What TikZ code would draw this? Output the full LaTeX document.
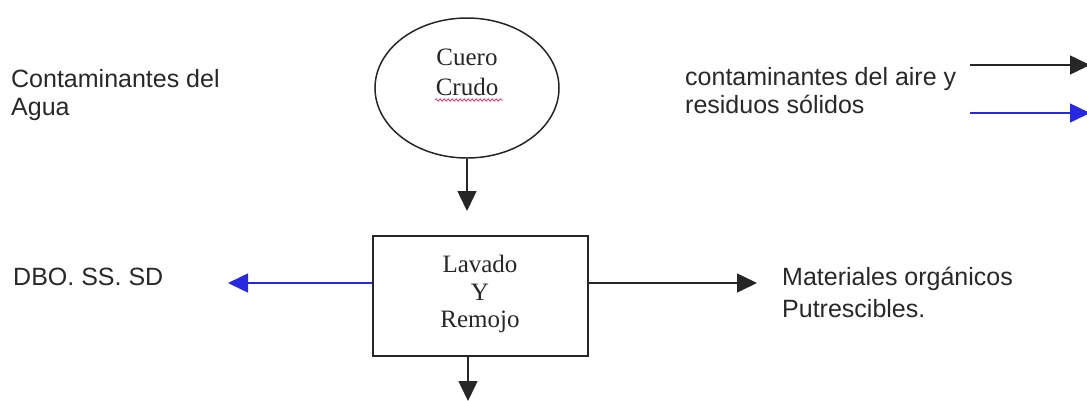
\documentclass[tikz,border=0pt]{standalone}
\usepackage{fontspec}
\setmainfont{Liberation Serif}
\setsansfont{Liberation Sans}
\usetikzlibrary{arrows.meta,shapes.geometric,decorations.pathmorphing}
\definecolor{flowblue}{RGB}{40,40,225}
\definecolor{txtgray}{RGB}{40,40,40}
\tikzset{
  lbl/.style={anchor=base west, inner sep=0pt, font=\sffamily\fontsize{25}{29}\selectfont, text=txtgray},
  inlbl/.style={anchor=base, inner sep=0pt, font=\rmfamily\fontsize{25}{28}\selectfont, text=black!85},
  flow/.style={line width=1.5pt, draw=black!85, -{Triangle[length=20pt,width=19pt]}},
  blueflow/.style={flow, draw=flowblue, fill=flowblue, -{Triangle[length=20pt,width=19pt,fill=flowblue]}},
  shapeline/.style={line width=1.5pt, draw=black!85}
}
\begin{document}
\begin{tikzpicture}[x=1pt,y=-1pt]
\useasboundingbox (0,0) rectangle (1087,400);
% shapes
\node[shapeline, ellipse, minimum width=184pt, minimum height=140pt, inner sep=0pt] (crudo) at (467,88) {};
\node[shapeline, rectangle, minimum width=215pt, minimum height=120pt, inner sep=0pt] (lavado) at (480.5,296) {};
% texts inside
\node[inlbl] (t1) at (467,65) {Cuero};
\node[inlbl] (t2) at (467,95) {Crudo};
\draw[red!70!magenta, line width=0.6pt, decorate, decoration={snake, amplitude=1.2pt, segment length=4pt}] (435,100) -- (503,100);
\node[inlbl] (t3) at (480,272) {Lavado};
\node[inlbl] (t4) at (480,300) {Y};
\node[inlbl] (t5) at (480,327) {Remojo};
% labels
\node[lbl] (c1) at (11,87) {Contaminantes del};
\node[lbl] (c2) at (11,115) {Agua};
\node[lbl] (a1) at (685,85) {contaminantes del aire y};
\node[lbl] (a2) at (685,113) {residuos sólidos};
\node[lbl] (d1) at (13,285) {DBO. SS. SD};
\node[lbl] (m1) at (782,285) {Materiales orgánicos};
\node[lbl] (m2) at (782,317) {Putrescibles.};
% coordinates
\coordinate (down1) at (467,211);
\coordinate (down2) at (468,401);
\coordinate (lft) at (228,283);
\coordinate (rgt) at (757,283);
\coordinate (k1s) at (970,65);
\coordinate (k1e) at (1090,65);
\coordinate (k2s) at (970,113);
\coordinate (k2e) at (1090,113);
% connectors
\draw[flow] (crudo.south) -- (down1);
\draw[flow] (lavado.south -| down2) -- (down2);
\draw[blueflow] (lavado.west |- lft) -- (lft);
\draw[flow] (lavado.east |- rgt) -- (rgt);
\draw[flow] (k1s) -- (k1e);
\draw[blueflow] (k2s) -- (k2e);
\end{tikzpicture}
\end{document}
